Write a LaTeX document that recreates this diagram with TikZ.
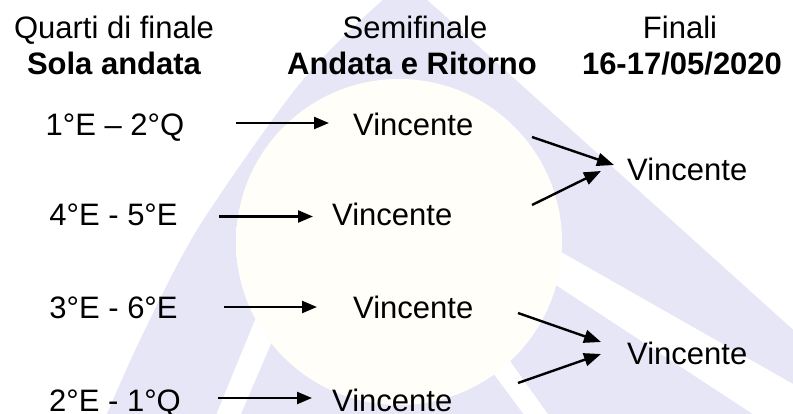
\documentclass[tikz,border=0pt]{standalone}
\usepackage{fontspec}
\setmainfont{Liberation Sans}
\usetikzlibrary{arrows.meta}
\definecolor{lav}{HTML}{E6E6F6}
\definecolor{sunedge}{HTML}{FDF3D2}
\definecolor{suncenter}{HTML}{FFFEF8}
\pgfdeclareradialshading{sunglow}{\pgfpoint{0bp}{0bp}}{color(0bp)=(suncenter); color(30bp)=(suncenter); color(46bp)=(sunedge!70!suncenter); color(50bp)=(sunedge)}
\begin{document}
\begin{tikzpicture}[x=1pt,y=-1pt,
  lbl/.style={inner sep=0pt, font=\fontsize{31}{37}\selectfont},
  lblb/.style={inner sep=0pt, font=\fontsize{31}{37}\selectfont\bfseries},
  arr/.style={line width=2.4pt, -{Triangle[length=15pt,width=12pt]}},
  darr/.style={line width=2.4pt, -{Triangle[length=17pt,width=13pt]}}]
\useasboundingbox (0,0) rectangle (793,414);
\fill[white] (0,0) rectangle (793,414);
% watermark
\begin{scope}
\clip (0,0) rectangle (793,414);
\fill[lav] plot[smooth] coordinates {(405,-20) (340,40) (287,100) (197,230) (140,340) (100,430)} -- (800,430) -- (800,336) -- cycle;
\fill[white] (210,430) -- (234,430) -- (306,262) -- (282,254) -- cycle;
\fill[white] (540,240) -- (800,388) -- (800,420) -- (762,420) -- (530,268) -- cycle;
\fill[white] (470,342) -- (492,336) -- (552,420) -- (528,420) -- cycle;
\shade[shading=sunglow] (399,242) circle (163);
\end{scope}
% headers
\node[lbl, anchor=base] (h1a) at (114,39) {Quarti di finale};
\node[lblb, anchor=base] (h1b) at (114,75) {Sola andata};
\node[lbl, anchor=base] (h2a) at (415,39) {Semifinale};
\node[lblb, anchor=base] (h2b) at (412,75) {Andata e Ritorno};
\node[lbl, anchor=base] (h3a) at (680,39) {Finali};
\node[lblb, anchor=base] (h3b) at (682,75) {16-17/05/2020};
% quarters
\node[lbl, anchor=base] (q1) at (115,136) {1°E – 2°Q};
\node[lbl, anchor=base] (q2) at (113.5,226) {4°E - 5°E};
\node[lbl, anchor=base] (q3) at (113.5,319) {3°E - 6°E};
\node[lbl, anchor=base] (q4) at (115,411) {2°E - 1°Q};
% semis
\node[lbl, anchor=base west] (s1) at (353,136) {Vincente};
\node[lbl, anchor=base west] (s2) at (332,226) {Vincente};
\node[lbl, anchor=base west] (s3) at (353,319) {Vincente};
\node[lbl, anchor=base west] (s4) at (332,411) {Vincente};
% finals
\node[lbl, anchor=base west] (f1) at (627,181) {Vincente};
\node[lbl, anchor=base west] (f2) at (627,364) {Vincente};
% arrow endpoints
\coordinate (a1s) at (236,123);
\coordinate (a1e) at (329,123);
\coordinate (a2s) at (219,216.5);
\coordinate (a2e) at (313,216.5);
\coordinate (a3s) at (224,307);
\coordinate (a3e) at (317,307);
\coordinate (a4s) at (218,398);
\coordinate (a4e) at (312,398);
\coordinate (d1s) at (532,137);
\coordinate (d1e) at (614,165);
\coordinate (d2s) at (532,205);
\coordinate (d2e) at (601,171);
\coordinate (d3s) at (518,313);
\coordinate (d3e) at (601,342);
\coordinate (d4s) at (518,383);
\coordinate (d4e) at (601,354);
\draw[arr] (a1s) -- (a1e);
\draw[arr] (a2s) -- (a2e);
\draw[arr] (a3s) -- (a3e);
\draw[arr] (a4s) -- (a4e);
\draw[darr] (d1s) -- (d1e);
\draw[darr] (d2s) -- (d2e);
\draw[darr] (d3s) -- (d3e);
\draw[darr] (d4s) -- (d4e);
\end{tikzpicture}
\end{document}
